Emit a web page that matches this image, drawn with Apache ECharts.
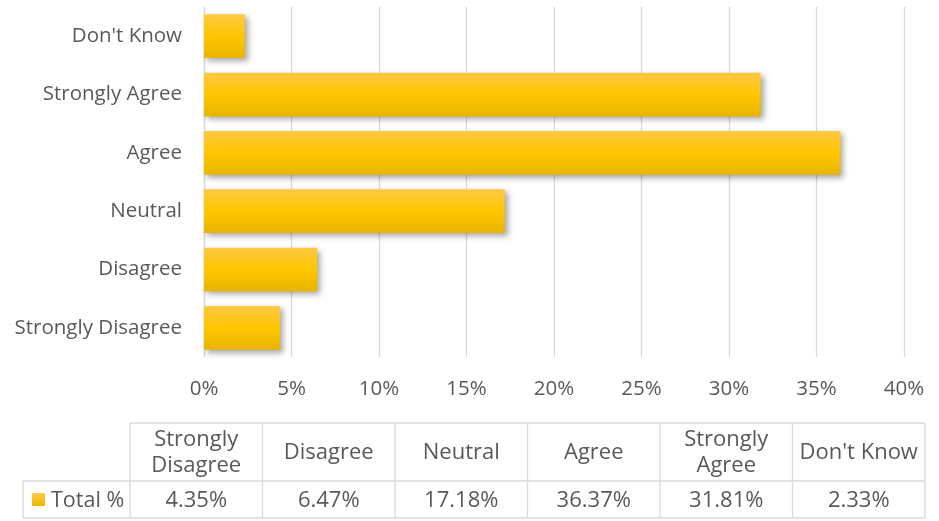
<!DOCTYPE html>
<html>
<head>
<meta charset="utf-8">
<script src="https://cdn.jsdelivr.net/npm/echarts@6/dist/echarts.min.js"></script>
<style>
  html, body { margin: 0; padding: 0; background: #fff; }
  #main { width: 939px; height: 521px; }
</style>
</head>
<body>
<div id="main"></div>
<script>
// 数据
var categories = ['Strongly Disagree', 'Disagree', 'Neutral', 'Agree', 'Strongly Agree', "Don't Know"];
var tableHeaders = ['Strongly\nDisagree', 'Disagree', 'Neutral', 'Agree', 'Strongly\nAgree', "Don't Know"];
var seriesName = 'Total %';
var values = [4.35, 6.47, 17.18, 36.37, 31.81, 2.33];
var xTicks = [0, 5, 10, 15, 20, 25, 30, 35, 40];

var chart = echarts.init(document.getElementById('main'));
var textColor = '#595959';
var lineColor = '#d9d9d9';
var font = '"Open Sans", "Noto Sans", sans-serif';
var tblFont = '22px ' + font;

// 底部数据表 (graphic)
var tblLeft = 130, colW = 132.5, headTop = 423, headH = 58, rowH = 37, labelLeft = 23;
var rowTop = headTop + headH, rowBottom = rowTop + rowH;
var tblRight = tblLeft + colW * categories.length;
var g = [];
function hline(x1, x2, y) { g.push({ type: 'line', shape: { x1: x1, y1: y, x2: x2, y2: y }, style: { stroke: lineColor, lineWidth: 1.3 } }); }
function vline(x, y1, y2) { g.push({ type: 'line', shape: { x1: x, y1: y1, x2: x, y2: y2 }, style: { stroke: lineColor, lineWidth: 1.3 } }); }
hline(tblLeft, tblRight, headTop);
hline(labelLeft, tblRight, rowTop);
hline(labelLeft, tblRight, rowBottom);
vline(labelLeft, rowTop, rowBottom);
for (var i = 0; i <= categories.length; i++) vline(tblLeft + colW * i, headTop, rowBottom);
tableHeaders.forEach(function (h, i) {
  g.push({ type: 'text', x: tblLeft + colW * (i + 0.5), y: headTop + headH / 2 + 1,
    style: { text: h, fill: textColor, font: tblFont, align: 'center', verticalAlign: 'middle', lineHeight: 26 } });
  g.push({ type: 'text', x: tblLeft + colW * (i + 0.5), y: rowTop + rowH / 2 + 1,
    style: { text: values[i].toFixed(2) + '%', fill: textColor, font: tblFont, align: 'center', verticalAlign: 'middle' } });
});
g.push({ type: 'rect', shape: { x: 32, y: 493, width: 13, height: 13 },
  style: { fill: new echarts.graphic.LinearGradient(0, 0, 0, 1, [{ offset: 0, color: '#FFCB4A' }, { offset: 1, color: '#EDB600' }]) } });
g.push({ type: 'text', x: 51, y: rowTop + rowH / 2 + 1,
  style: { text: seriesName, fill: textColor, font: '21.5px ' + font, align: 'left', verticalAlign: 'middle' } });

var option = {
  animation: false,
  grid: { left: 204, right: 35, top: 7, bottom: 164 },
  xAxis: {
    type: 'value', min: 0, max: 40, interval: 5,
    axisLine: { show: false }, axisTick: { show: false },
    splitLine: { lineStyle: { color: lineColor, width: 1.3 } },
    axisLabel: { color: textColor, fontSize: 20.5, fontFamily: font, margin: 22,
      formatter: function (v) { return xTicks.indexOf(v) >= 0 ? v + '%' : ''; } }
  },
  yAxis: {
    type: 'category', data: categories,
    axisLine: { show: true, lineStyle: { color: lineColor, width: 1.3 } },
    axisTick: { show: false },
    axisLabel: { color: textColor, fontSize: 20.5, fontFamily: font, margin: 22 }
  },
  series: [{
    name: seriesName, type: 'bar', data: values, barCategoryGap: '25%',
    itemStyle: {
      color: new echarts.graphic.LinearGradient(0, 0, 0, 1, [
        { offset: 0, color: '#FFC843' },
        { offset: 0.5, color: '#FFC600' },
        { offset: 1, color: '#E8B400' }
      ]),
      shadowColor: 'rgba(0,0,0,0.35)', shadowBlur: 6, shadowOffsetX: 3, shadowOffsetY: 3
    }
  }],
  graphic: g
};
chart.setOption(option);
</script>
</body>
</html>
